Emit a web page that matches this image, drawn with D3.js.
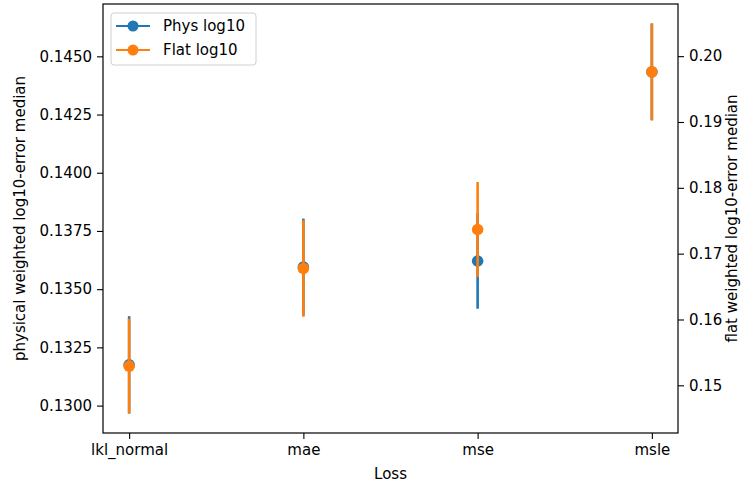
<!DOCTYPE html>
<html>
<head>
<meta charset="utf-8">
<style>
    body { margin: 0; background: white; }
    text { font-family: "DejaVu Sans", sans-serif; fill: #000; }
</style>
</head>
<body>
<div id="chart"></div>
<script src="https://d3js.org/d3.v7.min.js"></script>
<script>

const categories = ["lkl_normal", "mae", "mse", "msle"]
const physMedian = [0.13175, 0.13595, 0.13621, 0.14433]
const physErr = [0.00209, 0.00208, 0.00205, 0.00208]
const flatMedian = [0.15293, 0.16775, 0.17367, 0.19762]
const flatErr = [0.00721, 0.00733, 0.00721, 0.00734]
const leftTicks = [0.1300, 0.1325, 0.1350, 0.1375, 0.1400, 0.1425, 0.1450]
const rightTicks = [0.15, 0.16, 0.17, 0.18, 0.19, 0.20]

const width = 741, height = 489
const margin = {top: 4, right: 63, bottom: 56, left: 103}
const blue = "#1f77b4", orange = "#ff7f0e"

const svg = d3.select("#chart").append("svg")
    .attr("width", width).attr("height", height)

// matplotlib style 5% padding around the data
function padded(med, err) {
    const lo = d3.min(med, (d, i) => d - err[i])
    const hi = d3.max(med, (d, i) => d + err[i])
    const pad = (hi - lo) * 0.05
    return [lo - pad, hi + pad]
}

const x = d3.scaleLinear()
    .domain([-0.15, categories.length - 1 + 0.15])
    .range([margin.left, width - margin.right])
const yL = d3.scaleLinear().domain(padded(physMedian, physErr))
    .range([height - margin.bottom, margin.top])
const yR = d3.scaleLinear().domain(padded(flatMedian, flatErr))
    .range([height - margin.bottom, margin.top])

const font = "15px"

svg.append("g")
    .attr("transform", `translate(0,${height - margin.bottom})`)
    .call(d3.axisBottom(x).tickValues(d3.range(categories.length))
        .tickFormat(i => categories[i]).tickSize(6).tickPadding(5))
    .call(g => g.select(".domain").remove())
    .selectAll("text").style("font-size", font)

svg.append("g")
    .attr("transform", `translate(${margin.left},0)`)
    .call(d3.axisLeft(yL).tickValues(leftTicks).tickFormat(d3.format(".4f"))
        .tickSize(6).tickPadding(5))
    .call(g => g.select(".domain").remove())
    .selectAll("text").style("font-size", font)

svg.append("g")
    .attr("transform", `translate(${width - margin.right},0)`)
    .call(d3.axisRight(yR).tickValues(rightTicks).tickFormat(d3.format(".2f"))
        .tickSize(6).tickPadding(5))
    .call(g => g.select(".domain").remove())
    .selectAll("text").style("font-size", font)

svg.selectAll(".tick line").attr("stroke", "#000").attr("stroke-width", 1.1)

function series(med, err, y, color) {
    const g = svg.append("g")
    g.selectAll("line").data(med).enter().append("line")
        .attr("x1", (d, i) => x(i)).attr("x2", (d, i) => x(i))
        .attr("y1", (d, i) => y(d - err[i])).attr("y2", (d, i) => y(d + err[i]))
        .attr("stroke", color).attr("stroke-width", 2.6)
    g.selectAll("circle").data(med).enter().append("circle")
        .attr("cx", (d, i) => x(i)).attr("cy", d => y(d))
        .attr("r", 5.8).attr("fill", color)
}
series(physMedian, physErr, yL, blue)
series(flatMedian, flatErr, yR, orange)

// frame
svg.append("rect")
    .attr("x", margin.left).attr("y", margin.top)
    .attr("width", width - margin.left - margin.right)
    .attr("height", height - margin.top - margin.bottom)
    .attr("fill", "none").attr("stroke", "#000").attr("stroke-width", 1.2)

// axis labels
svg.append("text")
    .attr("x", (margin.left + width - margin.right) / 2).attr("y", 479)
    .attr("text-anchor", "middle").style("font-size", font).text("Loss")
svg.append("text")
    .attr("transform", `translate(25,${(margin.top + height - margin.bottom) / 2}) rotate(-90)`)
    .attr("text-anchor", "middle").style("font-size", font)
    .text("physical weighted log10-error median")
svg.append("text")
    .attr("transform", `translate(737,${(margin.top + height - margin.bottom) / 2}) rotate(-90)`)
    .attr("text-anchor", "middle").style("font-size", font)
    .text("flat weighted log10-error median")

// legend
const legend = svg.append("g").attr("transform", "translate(111,13)")
legend.append("rect")
    .attr("width", 145).attr("height", 52).attr("rx", 3)
    .attr("fill", "white").attr("fill-opacity", 0.8)
    .attr("stroke", "#d0d0d0").attr("stroke-width", 1)
const items = [["Phys log10", blue], ["Flat log10", orange]]
items.forEach(([label, color], i) => {
    const yy = 13 + i * 24
    legend.append("line").attr("x1", 5).attr("x2", 39).attr("y1", yy).attr("y2", yy)
        .attr("stroke", color).attr("stroke-width", 2.2)
    legend.append("circle").attr("cx", 22).attr("cy", yy).attr("r", 5.5).attr("fill", color)
    legend.append("text").attr("x", 52).attr("y", yy).attr("dy", "0.35em")
        .style("font-size", font).text(label)
})

</script>
</body>
</html>
